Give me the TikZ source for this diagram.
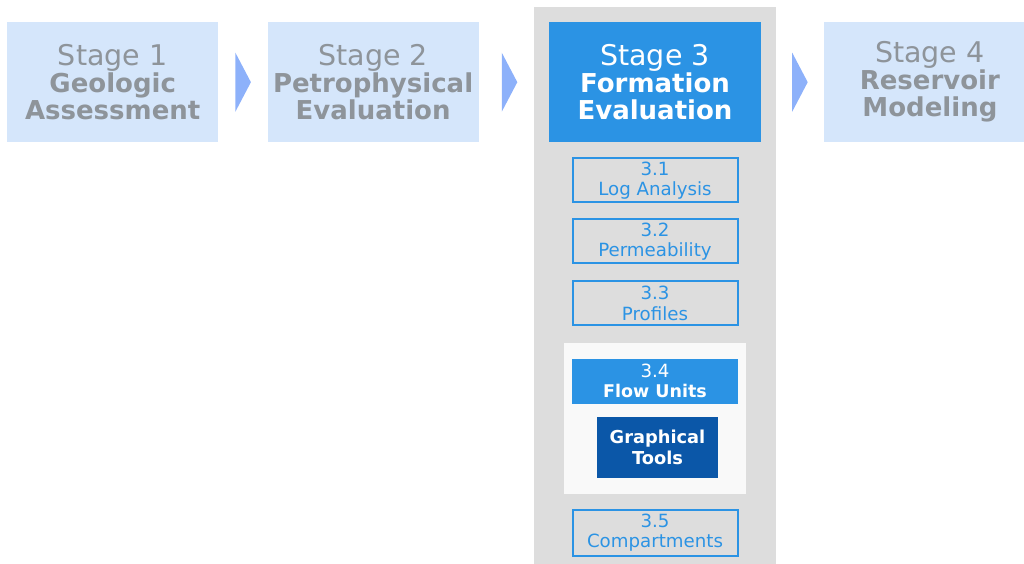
\documentclass[tikz,border=0pt]{standalone}
\usepackage{fontspec}
\setmainfont{DejaVu Sans}
\usetikzlibrary{positioning,calc}

\definecolor{stagebg}{HTML}{D5E6FB}
\definecolor{stagegray}{HTML}{8E949A}
\definecolor{chevronblue}{HTML}{8DB1FA}
\definecolor{panelgray}{HTML}{DDDDDD}
\definecolor{fmblue}{HTML}{2B93E4}
\definecolor{tooldark}{HTML}{0B57A8}
\definecolor{flowwhite}{HTML}{F9F9F9}

% chevron between two stages, #1 = left tip of the chevron
\newcommand{\chevron}[1]{\fill[chevronblue] #1 ++(0,29.5) -- ++(15.5,-29.5) -- ++(-15.5,-29.5) -- cycle;}
% bold title lines of a stage
\newcommand{\stagetitle}[1]{{\fontsize{26}{27}\selectfont\bfseries #1}}

\begin{document}
\begin{tikzpicture}[x=1pt, y=1pt,
		stage/.style={
			fill=stagebg,
			text=stagegray,
			inner sep=0pt,
			minimum height=120pt,
			minimum width=211pt,
			align=center,
			font=\fontsize{28.5}{27}\selectfont},
		sub/.style={
			draw=fmblue,
			line width=2pt,
			text=fmblue,
			inner sep=0pt,
			minimum height=44pt,
			minimum width=165pt,
			align=center,
			font=\fontsize{18.2}{20.5}\selectfont},
		filled/.style={
			fill=fmblue,
			text=white,
			inner sep=0pt,
			align=center}]

		\useasboundingbox (0,0) rectangle (1024,-564);

		\node (stagepanel) [fill=panelgray, inner sep=0pt, minimum width=242pt, minimum height=570pt, anchor=north] at (655,-7) {};

		\node (stage3) [filled, minimum height=120pt, minimum width=212pt, font=\fontsize{28.5}{27}\selectfont,
			below=15pt of stagepanel.north] {Stage 3\\\stagetitle{Formation}\\\stagetitle{Evaluation}};
		\node (stage2) [stage, left=70pt of stage3] {Stage 2\\\stagetitle{Petrophysical}\\\stagetitle{Evaluation}};
		\node (stage1) [stage, left=49pt of stage2] {Stage 1\\\stagetitle{Geologic}\\\stagetitle{Assessment}};
		\node (stage4) [stage, right=63pt of stage3] {Stage 4\\\stagetitle{Reservoir}\\\stagetitle{Modeling}};

		\chevron{($(stage1.east)+(17,0)$)}
		\chevron{($(stage2.east)+(23,0)$)}
		\chevron{($(stage3.east)+(31,0)$)}

		\node (sub31) [sub, below=15pt of stage3] {3.1\\Log Analysis};
		\node (sub32) [sub, below=15pt of sub31] {3.2\\Permeability};
		\node (sub33) [sub, below=16pt of sub32] {3.3\\Profiles};

		\node (flowpanel) [fill=flowwhite, inner sep=0pt, minimum width=182pt, minimum height=151pt, below=16pt of sub33] {};
		\node (sub34) [filled, minimum height=45pt, minimum width=166pt, font=\fontsize{18.2}{20.5}\selectfont,
			below=16pt of flowpanel.north] {3.4\\\textbf{\fontsize{17.5}{20.5}\selectfont Flow Units}};
		\node (tools) [filled, fill=tooldark, minimum height=61pt, minimum width=121pt, font=\fontsize{17.8}{21}\selectfont,
			below=13pt of sub34, xshift=2.5pt] {\textbf{Graphical}\\\textbf{Tools}};

		\node (sub35) [sub, minimum height=46pt, below=15pt of flowpanel] {3.5\\Compartments};
	\end{tikzpicture}
\end{document}
